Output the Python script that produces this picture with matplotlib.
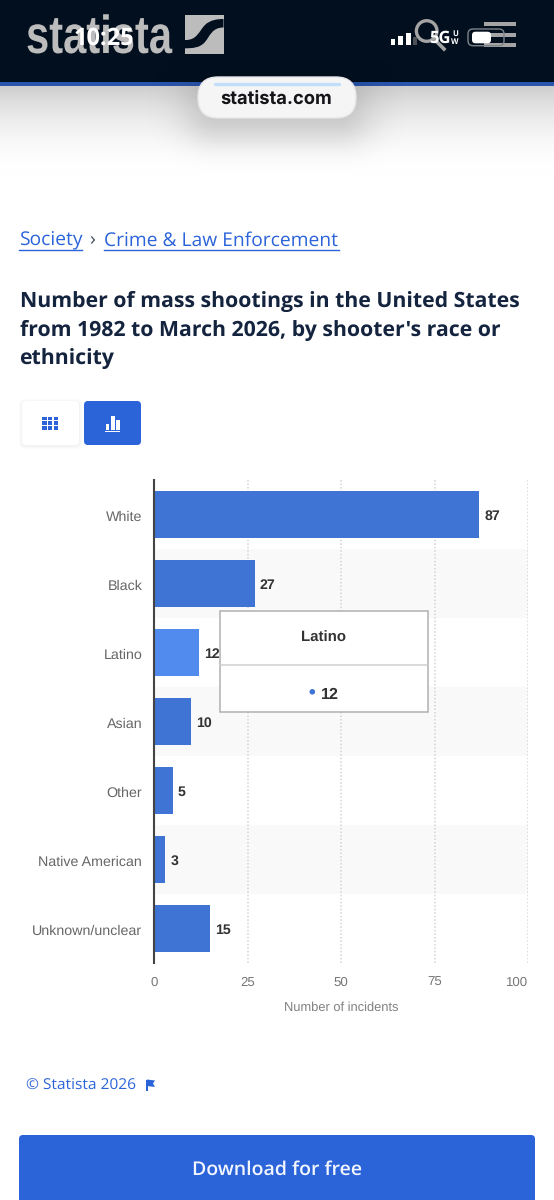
import numpy as np
import matplotlib
matplotlib.use("Agg")
import matplotlib.pyplot as plt
from matplotlib.patches import Rectangle, FancyBboxPatch, Circle, Polygon, PathPatch
from matplotlib.path import Path
from matplotlib.patheffects import AbstractPathEffect
from matplotlib.transforms import Affine2D, ScaledTranslation

# Chart data
categories = ["White", "Black", "Latino", "Asian", "Other", "Native American", "Unknown/unclear"]
incidents = [87, 27, 12, 10, 5, 3, 15]
x_ticks = [0, 25, 50, 75, 100]
highlighted = "Latino"

W, H = 554, 1200
UI_FONT = ["Open Sans", "DejaVu Sans"]
CHART_FONT = ["Liberation Sans", "DejaVu Sans"]
BLUE = "#2b63d9"
BAR = "#3f74d4"
BAR_HI = "#528bee"
NAVY = "#14243f"
HEADER = "#020f1f"
LOGO = "#bcbcbc"

# Unhinted glyphs keep text widths proportional to font size
plt.rcParams["text.hinting"] = "no_hinting"
plt.rcParams["text.hinting_factor"] = 8

fig = plt.figure(figsize=(W / 100, H / 100), dpi=100, facecolor="white")


class SqueezeX(AbstractPathEffect):
    """Narrows text horizontally about a fixed pixel column."""

    def __init__(self, anchor, factor):
        super().__init__()
        self.anchor = anchor
        self.factor = factor

    def draw_path(self, renderer, gc, tpath, affine, rgbFace=None):
        squeeze = Affine2D().translate(-self.anchor, 0).scale(self.factor, 1).translate(self.anchor, 0)
        renderer.draw_path(gc, tpath, affine + squeeze, rgbFace)


def px_axes(zorder):
    a = fig.add_axes([0, 0, 1, 1], zorder=zorder)
    a.set_xlim(0, W)
    a.set_ylim(H, 0)
    a.axis("off")
    a.patch.set_alpha(0)
    return a


def rounded(a, x, y, w, h, r, **kw):
    p = FancyBboxPatch((x + r, y + r), w - 2 * r, h - 2 * r,
                       boxstyle=f"round,pad={r},rounding_size={r}", **kw)
    a.add_patch(p)
    return p


# Page layer, behind the chart
page = px_axes(0)

# Soft grey fade under the header
t = np.linspace(0, 1, 96)[:, None]
fade = 1 - (1 - t) ** 2
fade_rgb = np.dstack([0.81 + 0.19 * fade] * 3)
page.imshow(fade_rgb, extent=(0, W, 176, 86), aspect="auto", zorder=1)

# Header band
page.add_patch(Rectangle((0, 0), W, 82, color=HEADER, lw=0, zorder=2))
page.add_patch(Rectangle((0, 82), W, 4, color="#2a55ad", lw=0, zorder=2))

# Logo wordmark and mark
page.text(26, 53, "statista", family=["Liberation Sans"], weight="bold", size=38.5, color=LOGO,
          va="baseline", ha="left", zorder=3, path_effects=[SqueezeX(26, 0.78)])
page.add_patch(Rectangle((185, 15), 38.5, 38.5, color=LOGO, lw=0, zorder=3))
swoosh = Path([(185, 40), (197, 40.5), (199, 31), (205, 25), (210, 20), (217, 19), (223.5, 19),
               (223.5, 27.5), (212, 27.5), (210, 36), (205, 42), (200, 48), (192, 48.3), (185, 48.3),
               (185, 40)],
              [Path.MOVETO] + [Path.CURVE4] * 6 + [Path.LINETO] + [Path.CURVE4] * 6 + [Path.CLOSEPOLY])
page.add_patch(PathPatch(swoosh, fc=HEADER, ec="none", zorder=4))

# Search glass and menu bars in the header
page.add_patch(Circle((426.7, 31), 10.3, fc="none", ec="#a4a4a4", lw=2.4, zorder=3))
page.plot([434, 444], [39, 49], color="#a4a4a4", lw=2.6, zorder=3)
for top_y in (22.3, 33.3, 43.3):
    page.add_patch(Rectangle((484, top_y), 32, 3.4, color="#a4a4a4", lw=0, zorder=3))

# Status bar
page.text(104, 38.5, "10:25", family=UI_FONT, weight="bold", size=17, color="white",
          ha="center", va="center", zorder=5)
for x0, wd, hh, col in zip((391, 398, 406, 413), (4.3, 4.6, 4.6, 4.2), (5.7, 9, 12.3, 8),
                           ("white", "white", "white", "#4c4f55")):
    page.add_patch(Rectangle((x0, 45 - hh), wd, hh, color=col, lw=0, zorder=5))
page.text(439.5, 38.6, "5G", family=UI_FONT, weight="bold", size=12, color="white",
          ha="center", va="center", zorder=5)
page.text(455, 33.5, "U", family=UI_FONT, weight="bold", size=5.6, color="white", ha="center", va="center", zorder=5)
page.text(455, 42.3, "W", family=UI_FONT, weight="bold", size=5.6, color="white", ha="center", va="center", zorder=5)
rounded(page, 468, 29, 36, 16.7, 5, fc="none", ec="#7e838a", lw=1, zorder=5)
rounded(page, 472, 31.7, 19, 11.6, 3.5, fc="white", ec="none", zorder=5)

# Address pill with a soft shadow
yy, xx = np.mgrid[60:185, 130:430]
d = np.hypot(np.maximum(np.abs(xx - 277) - 60, 0) / 1.3, np.maximum(np.abs(yy - 108) - 10, 0))
shadow = np.zeros(d.shape + (4,))
shadow[..., 3] = 0.14 * np.exp(-(d / 28) ** 2)
page.imshow(shadow, extent=(130, 430, 185, 60), aspect="auto", zorder=5)
page.set_xlim(0, W)
page.set_ylim(H, 0)
rounded(page, 198, 77, 158, 41, 20, fc="#f5f5f6", ec="#e6e6e8", lw=1, zorder=6)
page.plot([215, 339], [84, 84], color="#c3def8", lw=2.4, solid_capstyle="round", zorder=7)
page.text(276.5, 99, "statista.com", family=["Inter", "Liberation Sans", "DejaVu Sans"], weight="bold", size=13.2,
          color="#15151a", ha="center", va="center", zorder=7)

# Breadcrumb
page.text(19, 245.5, "Society", family=UI_FONT, size=13.9, color=BLUE, va="baseline", zorder=3)
page.plot([19, 82], [249.5, 249.5], color=BLUE, lw=1, zorder=3)
page.text(92, 245.5, "›", family=UI_FONT, size=14, color="#444c5c", ha="center", va="baseline", zorder=3)
page.text(104, 245.5, "Crime & Law Enforcement", family=UI_FONT, size=13.9, color=BLUE, va="baseline", zorder=3)
page.plot([104, 339], [249.5, 249.5], color=BLUE, lw=1, zorder=3)

# Heading
for y, line in zip((306.5, 335.5, 364.5), ("Number of mass shootings in the United States",
                                           "from 1982 to March 2026, by shooter's race or",
                                           "ethnicity")):
    page.text(19.5, y, line, family=UI_FONT, weight="bold", size=15.35, color=NAVY, va="baseline", zorder=3)

# View toggle buttons
for off, al in ((3, 0.012), (2, 0.015), (1, 0.02)):
    rounded(page, 22 - off, 401 - off + 1, 57 + 2 * off, 44 + 2 * off, 5, fc="black", ec="none", alpha=al, zorder=2)
rounded(page, 22, 401, 57, 44, 4, fc="white", ec="none", zorder=3)
rounded(page, 84, 401, 57, 44, 4, fc=BLUE, ec="none", zorder=3)
for c in range(3):
    for r in range(3):
        page.add_patch(Rectangle((42.4 + c * 5.6, 416.6 + r * 4.7), 4.4, 3.5, color=BLUE, lw=0, zorder=4))
for x0, y0, w0 in ((105.5, 424, 3.8), (110.8, 416, 3.8), (116, 420, 3.8)):
    page.add_patch(Rectangle((x0, y0), w0, 430 - y0, color="white", lw=0, zorder=4))
page.add_patch(Rectangle((105, 430.8), 15.2, 1.4, color="white", lw=0, zorder=4))

# Copyright line and flag
page.text(25.5, 1085, "© Statista 2026", family=UI_FONT, size=11.15, color=BLUE, va="center", zorder=3)
page.add_patch(Rectangle((146, 1079.5), 1.6, 11, color=BLUE, lw=0, zorder=3))
page.add_patch(Polygon([(147, 1079.5), (155, 1080.5), (153, 1083.5), (155, 1087), (147, 1086)],
                       color=BLUE, lw=0, zorder=3))

# Download button
rounded(page, 19, 1135, 516, 90, 4, fc=BLUE, ec="none", zorder=3)
page.text(277, 1170, "Download for free", family=UI_FONT, weight="semibold", size=14,
          color="#f2f6ff", ha="center", va="center", zorder=4)

# Bar chart
ax = fig.add_axes([154 / W, 1 - 963 / H, (528 - 154) / W, (963 - 480) / H], zorder=2)
ax.patch.set_alpha(0)
positions = np.arange(len(categories))
for p in positions[1::2]:
    ax.axhspan(p - 0.5, p + 0.5, color="#f9f9f9", lw=0, zorder=0)
ax.set_axisbelow(True)
ax.grid(axis="x", color="#d4d4d4", lw=1.1, ls=(0, (1, 1.3)), zorder=1)
colors = [BAR_HI if c == highlighted else BAR for c in categories]
ax.barh(positions, incidents, height=0.68, color=colors, lw=0, zorder=2)
for p, v in zip(positions, incidents):
    ax.annotate(str(v), (v, p), xytext=(3.6, -1.3), textcoords="offset points", va="center", ha="left",
                family=CHART_FONT, weight="bold", size=10.2, color="#333333", zorder=3)
ax.set_xlim(0, 100)
ax.set_ylim(len(categories) - 0.5, -0.5)
ax.set_yticks(positions, categories)
ax.set_xticks(x_ticks)
ax.tick_params(axis="both", length=0)
ax.tick_params(axis="y", pad=8.5, labelsize=10.3, labelcolor="#666666")
ax.tick_params(axis="x", pad=10, labelsize=9.5, labelcolor="#777777")
nudge_down = ScaledTranslation(0, -1.4 / 100, fig.dpi_scale_trans)
for lab in ax.get_yticklabels():
    lab.set_family(CHART_FONT)
    lab.set_transform(lab.get_transform() + nudge_down)
for lab in ax.get_xticklabels():
    lab.set_family(CHART_FONT)
ax.get_xticklabels()[-1].set_ha("right")
ax.set_xlabel("Number of incidents", family=CHART_FONT, size=9.3, color="#808080", labelpad=9)
for name, spine in ax.spines.items():
    spine.set_visible(name == "left")
ax.spines["left"].set_color("#444444")
ax.spines["left"].set_linewidth(1.5)

# Hover tooltip above the chart
top = px_axes(3)
i = categories.index(highlighted)
top.add_patch(Rectangle((220, 611), 208, 101, fc="white", ec="#b0b0b0", lw=1.1, zorder=5))
top.plot([220, 427], [665, 665], color="#cfcfcf", lw=1.1, zorder=6)
top.text(323, 638, categories[i], family=CHART_FONT, weight="bold", size=10.8, color="#333333",
         ha="center", va="center", zorder=6)
top.add_patch(Circle((312.3, 691.8), 2.8, color=BAR, lw=0, zorder=6))
top.text(320.5, 695, str(incidents[i]), family=CHART_FONT, weight="bold", size=11.6, color="#333333",
         ha="left", va="center", zorder=6)

fig.savefig("out.png", dpi=100, facecolor="white")
